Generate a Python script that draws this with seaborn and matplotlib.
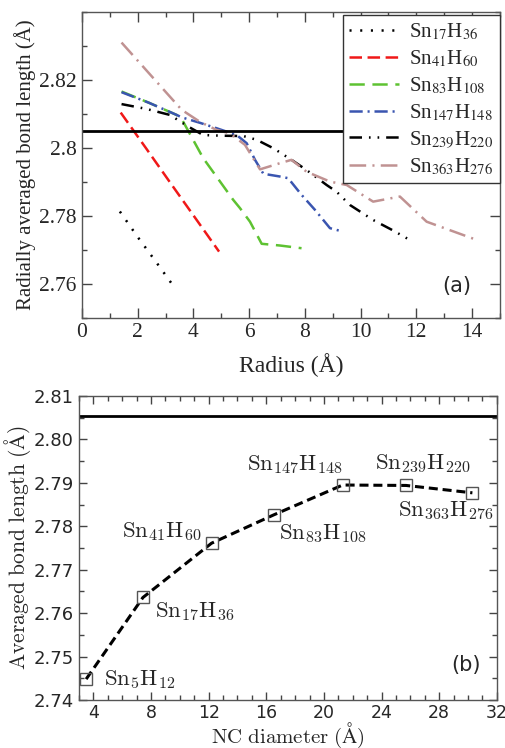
import numpy as np
import pandas as pd
import matplotlib
matplotlib.use("Agg")
import matplotlib.pyplot as plt
import seaborn as sns
from matplotlib.ticker import MultipleLocator, FixedLocator, FormatStrFormatter
from matplotlib.font_manager import FontProperties

# ---------------- data: panel (a) ----------------
r_17 = [1.36, 2.0, 2.7, 3.36]
b_17 = [2.7813, 2.7738, 2.7660, 2.7585]

r_41 = [1.39, 2.3, 3.2, 4.1, 4.92]
b_41 = [2.8104, 2.7999, 2.7894, 2.7790, 2.7695]

r_83 = [1.42, 2.4, 3.4, 3.6, 4.35, 5.0, 5.43, 5.67, 6.03, 6.45, 7.1, 7.88]
b_83 = [2.8166, 2.8133, 2.8097, 2.8082, 2.7970, 2.7896, 2.7847, 2.7823, 2.7783, 2.7718, 2.7713, 2.7705]

r_147 = [1.42, 2.4, 3.4, 3.58, 4.23, 4.83, 5.55, 5.91, 6.21, 6.51, 7.1, 7.4, 7.88, 8.36, 8.9, 9.22]
b_147 = [2.8164, 2.8133, 2.8097, 2.8090, 2.8074, 2.8058, 2.8038, 2.8014, 2.7965, 2.7924, 2.7916, 2.7911, 2.7862, 2.7818, 2.7764, 2.7757]

r_239 = [1.42, 2.3, 3.16, 3.81, 4.35, 5.0, 5.79, 6.27, 6.87, 7.52, 8.06, 8.78, 9.14, 9.62, 10.45, 11.17, 11.77]
b_239 = [2.8129, 2.8115, 2.8097, 2.8063, 2.8038, 2.8036, 2.8035, 2.8024, 2.7999, 2.7965, 2.7935, 2.7891, 2.7871, 2.7832, 2.7788, 2.7757, 2.7729]

r_363 = [1.42, 2.5, 3.58, 4.23, 4.83, 5.31, 5.85, 6.39, 7.1, 7.52, 8.06, 8.9, 9.5, 10.45, 11.41, 12.37, 14.18]
b_363 = [2.8310, 2.8211, 2.8112, 2.8077, 2.8053, 2.8043, 2.8009, 2.7937, 2.7955, 2.7965, 2.7930, 2.7901, 2.7891, 2.7842, 2.7857, 2.7783, 2.7729]

labels_a = [r"Sn$_{17}$H$_{36}$", r"Sn$_{41}$H$_{60}$", r"Sn$_{83}$H$_{108}$",
            r"Sn$_{147}$H$_{148}$", r"Sn$_{239}$H$_{220}$", r"Sn$_{363}$H$_{276}$"]
bulk_a = 2.805

# ---------------- data: panel (b) ----------------
nc_names = [r"$\mathrm{Sn}_{5}\mathrm{H}_{12}$", r"$\mathrm{Sn}_{17}\mathrm{H}_{36}$",
            r"$\mathrm{Sn}_{41}\mathrm{H}_{60}$", r"$\mathrm{Sn}_{83}\mathrm{H}_{108}$",
            r"$\mathrm{Sn}_{147}\mathrm{H}_{148}$", r"$\mathrm{Sn}_{239}\mathrm{H}_{220}$",
            r"$\mathrm{Sn}_{363}\mathrm{H}_{276}$"]
nc_diam = [3.5, 7.44, 12.2, 16.5, 21.3, 25.7, 30.3]
nc_bond = [2.7448, 2.7636, 2.7761, 2.7826, 2.7895, 2.7894, 2.7877]
bulk_b = 2.8055

# ---------------- style ----------------
sns.set_style("ticks")
plt.rcParams["font.family"] = ["DejaVu Sans"]
plt.rcParams["lines.scale_dashes"] = False

fig = plt.figure(figsize=(5.06, 7.48), dpi=100)
axA = fig.add_axes([0.162, 0.575, 0.826, 0.409])
axB = fig.add_axes([0.156, 0.0642, 0.826, 0.4064])

series = [(r_17, b_17), (r_41, b_41), (r_83, b_83), (r_147, b_147), (r_239, b_239), (r_363, b_363)]
colors = ["#000000", "#f01818", "#5ec232", "#3a55b0", "#000000", "#c09292"]
dashes = [(1.5, 6.2), (9, 4), (11, 5.5), (9.5, 3.5, 1.5, 3.5),
          (9, 5, 1.2, 5, 1.2, 5), (12, 4.5, 1.5, 4.5)]

for (xs, ys), c, d, lab in zip(series, colors, dashes, labels_a):
    sns.lineplot(x=xs, y=ys, ax=axA, color=c, lw=1.8, label=lab, sort=False, estimator=None)
    axA.lines[-1].set_dashes(d)

axA.axhline(bulk_a, color="black", lw=2)

axA.set_xlim(0, 15)
axA.set_ylim(2.75, 2.84)
axA.xaxis.set_major_locator(MultipleLocator(2))
axA.xaxis.set_minor_locator(MultipleLocator(1))
axA.yaxis.set_major_locator(FixedLocator([2.76, 2.78, 2.8, 2.82]))
axA.yaxis.set_major_formatter(FormatStrFormatter("%g"))
axA.yaxis.set_minor_locator(MultipleLocator(0.01))
axA.tick_params(which="both", direction="in", top=True, right=True, color="#444444")
axA.tick_params(which="major", length=7, width=1, labelsize=15.5,
                labelfontfamily="Liberation Serif", pad=4)
axA.tick_params(which="minor", length=3.5, width=1)
for s in axA.spines.values():
    s.set_color("#555555")
    s.set_linewidth(1)

axA.set_xlabel("Radius (Å)", fontsize=17, family="Liberation Serif", labelpad=8)
axA.set_ylabel("Radially averaged bond length (Å)", fontsize=15, family="Liberation Serif")
axA.yaxis.set_label_coords(-0.11, 0.5)
axA.text(0.897, 0.105, "(a)", transform=axA.transAxes, fontsize=15, ha="center", va="center")

leg = axA.legend(loc="upper right", bbox_to_anchor=(1.0, 0.99), borderaxespad=0,
                 prop=FontProperties(family="Liberation Serif", size=15, math_fontfamily="stix"),
                 handlelength=2.4, labelspacing=0.3, handletextpad=0.5,
                 borderpad=0.3, fancybox=False, framealpha=1, edgecolor="#333333")
leg.get_frame().set_linewidth(1)

# ---------------- panel (b) ----------------
axB.axhline(bulk_b, color="black", lw=2)
sns.lineplot(x=nc_diam, y=nc_bond, ax=axB, color="black", lw=2.2, sort=False, estimator=None,
             marker="s", markersize=9, markerfacecolor="none", markeredgecolor="#555555",
             markeredgewidth=1)
axB.lines[-1].set_dashes((6.5, 3.5))

offsets = [(13, 0), (9, -10), (-7, 8.5), (4, -13.5), (0, 14.5), (12, 15.5), (15, -12.5)]
aligns = ["left", "left", "right", "left", "right", "center", "right"]
for name, x, y, off, ha in zip(nc_names, nc_diam, nc_bond, offsets, aligns):
    axB.annotate(name, (x, y), xytext=off, textcoords="offset points", ha=ha, va="center",
                 fontsize=16.5, math_fontfamily="cm")

axB.set_xlim(3, 32)
axB.set_ylim(2.74, 2.81)
axB.xaxis.set_major_locator(MultipleLocator(4))
axB.xaxis.set_minor_locator(MultipleLocator(1))
axB.yaxis.set_major_locator(MultipleLocator(0.01))
axB.yaxis.set_major_formatter(FormatStrFormatter("%.2f"))
axB.yaxis.set_minor_locator(MultipleLocator(0.005))
axB.tick_params(which="both", direction="in", top=True, right=True, color="#444444")
axB.tick_params(which="major", length=6, width=1, pad=4)
axB.tick_params(axis="y", which="major", labelsize=13)
axB.tick_params(axis="x", which="major", labelsize=12.5, pad=3)
axB.tick_params(which="minor", length=3.5, width=1)
for s in axB.spines.values():
    s.set_color("#555555")
    s.set_linewidth(1)

axB.set_xlabel(r"$\mathrm{NC\ diameter\ (\AA)}$", fontsize=15, math_fontfamily="cm", va="baseline")
axB.xaxis.set_label_coords(0.5, -0.14)
axB.set_ylabel(r"$\mathrm{Averaged\ bond\ length\ (\AA)}$", fontsize=15.5, math_fontfamily="cm")
axB.yaxis.set_label_coords(-0.11, 0.5)
axB.text(0.927, 0.115, "(b)", transform=axB.transAxes, fontsize=15, ha="center", va="center")

fig.savefig("out.png", dpi=100)
